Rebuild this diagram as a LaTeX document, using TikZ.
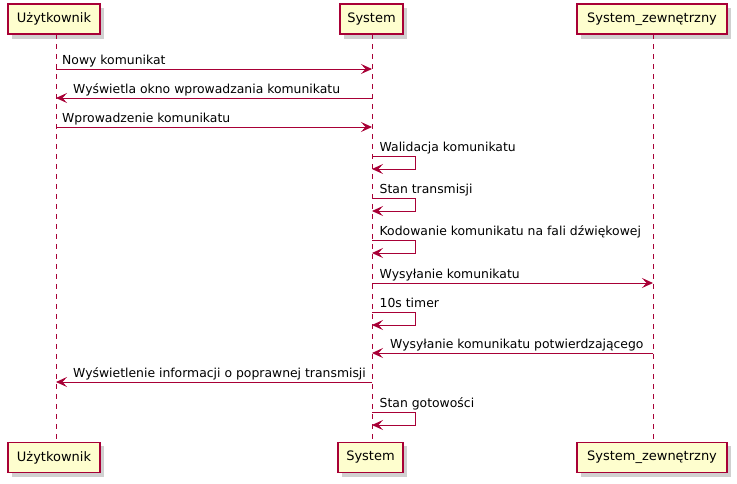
\documentclass[tikz,border=0pt]{standalone}
\usepackage{fontspec}
\setmainfont{DejaVu Sans}
\usetikzlibrary{arrows.meta}
\definecolor{umlred}{HTML}{A80036}
\definecolor{umlfill}{HTML}{FEFECE}
\definecolor{umlshadow}{HTML}{B0B0B0}
\tikzset{
  part/.style={draw=umlred, line width=1.5pt, fill=umlfill, minimum height=30pt, inner sep=0pt, font=\fontsize{13}{15}\selectfont, text=black},
  lifeline/.style={draw=umlred, line width=1pt, dash pattern=on 5pt off 5pt},
  msg/.style={draw=umlred, line width=1pt, -{Stealth[length=11pt,width=10pt,inset=4.5pt]}},
  lbl/.style={font=\fontsize{12.4}{15}\selectfont, inner sep=0pt, anchor=base west, text=black}
}
\begin{document}
\begin{tikzpicture}[x=1pt,y=-1pt]
\useasboundingbox (0,0) rectangle (737,483);
% shadows
\foreach \a/\b/\t in {8/100/4, 340/403/4, 577/727/4, 8/100/442, 338/403/442, 577/727/442}{
  \fill[umlshadow!60] (\a+4,\t+4) rectangle (\b+4,\t+35);
}
% lifelines
\coordinate (u0) at (56,34); \coordinate (u1) at (56,442);
\coordinate (s0) at (372,34); \coordinate (s1) at (372,442);
\coordinate (z0) at (653,34); \coordinate (z1) at (653,442);
\draw[lifeline] (u0) -- (u1);
\draw[lifeline] (s0) -- (s1);
\draw[lifeline] (z0) -- (z1);
% participants
\node[part, minimum width=92pt] (uT) at (54,19) {Użytkownik};
\node[part, minimum width=63pt] (sT) at (371.5,19) {System};
\node[part, minimum width=150pt] (zT) at (652,19) {System\_zewnętrzny};
\node[part, minimum width=92pt] (uB) at (54,457.5) {Użytkownik};
\node[part, minimum width=65pt] (sB) at (370.5,457.5) {System};
\node[part, minimum width=150pt] (zB) at (652,457.5) {System\_zewnętrzny};
% messages
\coordinate (a1) at (56,69); \coordinate (b1) at (372,69);
\draw[msg] (a1) -- (b1);
\node[lbl] (m1) at (62,64) {Nowy komunikat};

\coordinate (a2) at (372,98); \coordinate (b2) at (56,98);
\draw[msg] (a2) -- (b2);
\node[lbl] (m2) at (73,93) {Wyświetla okno wprowadzania komunikatu};

\coordinate (a3) at (56,127); \coordinate (b3) at (372,127);
\draw[msg] (a3) -- (b3);
\node[lbl] (m3) at (62,122) {Wprowadzenie komunikatu};

% self messages
\foreach \y/\t in {156/Walidacja komunikatu, 198/Stan transmisji, 240/Kodowanie komunikatu na fali dźwiękowej, 312/10s timer, 412/Stan gotowości}{
  \draw[msg] (372,\y) -- (415,\y) -- (415,\y+13) -- (372,\y+13);
  \node[lbl] at (379.5,\y-5) {\t};
}

\coordinate (a7) at (372,283); \coordinate (b7) at (653,283);
\draw[msg] (a7) -- (b7);
\node[lbl] (m7) at (379.5,278) {Wysyłanie komunikatu};

\coordinate (a9) at (653,353); \coordinate (b9) at (372,353);
\draw[msg] (a9) -- (b9);
\node[lbl] (m9) at (390,348) {Wysyłanie komunikatu potwierdzającego};

\coordinate (a10) at (372,382); \coordinate (b10) at (56,382);
\draw[msg] (a10) -- (b10);
\node[lbl] (m10) at (73,377) {Wyświetlenie informacji o poprawnej transmisji};
\end{tikzpicture}
\end{document}
